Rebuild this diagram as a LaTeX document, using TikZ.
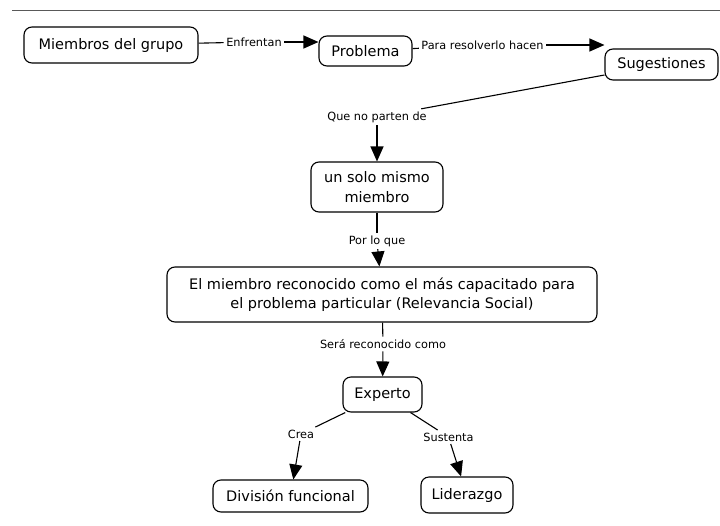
\documentclass[tikz,border=0pt]{standalone}
\usepackage{fontspec}
\setmainfont{DejaVu Sans}
\usetikzlibrary{arrows.meta}
\begin{document}
\begin{tikzpicture}[x=1pt,y=-1pt,
  concept/.style={draw, rounded corners=8pt, line width=1.1pt, align=center,
    inner sep=0pt, font=\fontsize{14.5}{19.5}\selectfont},
  linkword/.style={inner sep=2.5pt, font=\fontsize{11.3}{13}\selectfont},
  link/.style={line width=1.1pt},
  linkarrow/.style={link, -{Triangle[length=15pt,width=13pt]}}]
\useasboundingbox (0,0) rectangle (720,525);
\fill[white] (0,0) rectangle (720,525);

% rule across the top
\draw[line width=0.8pt, black!65] (12,10) -- (720,10);

% concepts
\node[concept, minimum width=174pt, minimum height=36pt] (mg)   at (111,45)    {Miembros del grupo};
\node[concept, minimum width=93pt,  minimum height=30pt] (prob) at (365.5,51)  {Problema};
\node[concept, minimum width=113pt, minimum height=31pt] (sug)  at (661.5,64.5){Sugestiones};
\node[concept, minimum width=132pt, minimum height=50pt] (uno)  at (377,187)   {un solo mismo\\miembro};
\node[concept, minimum width=430pt, minimum height=55pt] (rel)  at (382,294.5) {El miembro reconocido como el más capacitado para\\el problema particular (Relevancia Social)};
\node[concept, minimum width=79pt,  minimum height=35pt] (exp)  at (382.5,394.5){Experto};
\node[concept, minimum width=155pt, minimum height=32pt] (div)  at (290.5,496) {División funcional};
\node[concept, minimum width=92pt,  minimum height=36pt] (lid)  at (467,495)   {Liderazgo};

% linking phrases
\node[linkword] (enf)  at (254,42)    {Enfrentan};
\node[linkword] (para) at (482.5,45)  {Para resolverlo hacen};
\node[linkword] (que)  at (377,117)   {Que no parten de};
\node[linkword] (por)  at (377,241)   {Por lo que};
\node[linkword] (sera) at (383,344)   {Será reconocido como};
\node[linkword] (crea) at (301,434)   {Crea};
\node[linkword] (sus)  at (448.5,437) {Sustenta};

% connections
\draw[link] (mg) -- (enf);
\draw[linkarrow] (enf) -- (enf -| prob.west);
\draw[link] (prob) -- (para);
\draw[linkarrow] (para) -- (para -| sug.west);
\draw[link] (sug) -- (que);
\draw[linkarrow] (que) -- (uno);
\draw[link] (uno) -- (por);
\draw[linkarrow] (por) -- (rel);
\draw[link] (rel) -- (sera);
\draw[linkarrow] (sera) -- (exp);
\draw[link] (exp) -- (crea);
\draw[linkarrow] (crea) -- (div);
\draw[link] (exp) -- (sus);
\draw[linkarrow] (sus) -- (lid);
\end{tikzpicture}
\end{document}
